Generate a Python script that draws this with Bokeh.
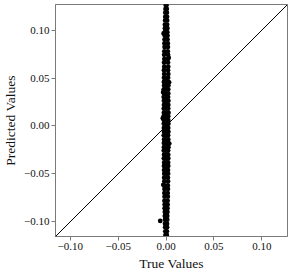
from bokeh.plotting import figure
from bokeh.models import Range1d, FixedTicker, Slope
from bokeh.embed import file_html
from bokeh.resources import INLINE

# ---- data ----
true_values = [
    -0.0004, 0.0005, -0.0006, 0.0007, -0.0008, 0.0008, -0.0009, 0.0010, -0.0010, 0.0011,
    -0.0012, 0.0011, -0.0012, 0.0013, -0.0014, 0.0013, -0.0014, 0.0015,
    -0.0016, 0.0015, -0.0017, 0.0018, -0.0016, 0.0019, -0.0018, 0.0018, -0.0020, 0.0020,
    -0.0018, 0.0019, -0.0021, 0.0020, -0.0019, 0.0022, -0.0022, 0.0020, -0.0020, 0.0023,
    -0.0022, 0.0002, 0.0021, -0.0023, -0.0001, 0.0022, -0.0021, 0.0001, 0.0024,
    -0.0024, 0.0000, 0.0022, -0.0022, 0.0003, 0.0023, -0.0025, -0.0002, 0.0021,
    -0.0023, 0.0001, 0.0024, -0.0022, -0.0001, 0.0023, -0.0024, 0.0002, 0.0022,
    -0.0023, 0.0000, 0.0025, -0.0025, 0.0001, 0.0022, -0.0022, -0.0002, 0.0023,
    -0.0024, 0.0001, 0.0024, -0.0023, 0.0000, 0.0022, -0.0022, 0.0002, 0.0024,
    -0.0024, -0.0001, 0.0021, -0.0021, 0.0001, 0.0023, -0.0023, 0.0000, 0.0022,
    -0.0022, 0.0002, 0.0024, -0.0024, -0.0001, 0.0021, -0.0021, 0.0001, 0.0022,
    -0.0023, 0.0000, 0.0023, -0.0020, 0.0002, 0.0021, -0.0022, -0.0001, 0.0022,
    -0.0021, 0.0001, 0.0020, -0.0019, 0.0000, 0.0021,
    -0.0020, 0.0019, -0.0018, 0.0020, -0.0019, 0.0018, -0.0017, 0.0019, -0.0018, 0.0017,
    -0.0016, 0.0018, -0.0017, 0.0016, -0.0015, 0.0016, -0.0015, 0.0014, -0.0013, 0.0014,
    -0.0013, 0.0012, -0.0011, 0.0012, -0.0011, 0.0010, -0.0009, 0.0010, -0.0008, 0.0008,
    -0.0006, 0.0007,
    -0.0061, -0.0034, 0.0033, -0.0031, 0.0031, -0.0029, 0.0027, -0.0026, 0.0001, -0.0002,
]
predicted_values = [
    0.1262, 0.1262, 0.1221, 0.1221, 0.1183, 0.1183, 0.1139, 0.1139, 0.1102, 0.1102,
    0.1058, 0.1058, 0.1021, 0.1021, 0.0979, 0.0979, 0.0941, 0.0941,
    0.0902, 0.0902, 0.0861, 0.0861, 0.0823, 0.0823, 0.0779, 0.0779, 0.0742, 0.0742,
    0.0698, 0.0698, 0.0661, 0.0661, 0.0619, 0.0619, 0.0582, 0.0582, 0.0541, 0.0541,
    0.0502, 0.0502, 0.0502, 0.0459, 0.0459, 0.0459, 0.0421, 0.0421, 0.0421,
    0.0382, 0.0382, 0.0382, 0.0339, 0.0339, 0.0339, 0.0301, 0.0301, 0.0301,
    0.0262, 0.0262, 0.0262, 0.0219, 0.0219, 0.0219, 0.0181, 0.0181, 0.0181,
    0.0138, 0.0138, 0.0138, 0.0101, 0.0101, 0.0101, 0.0059, 0.0059, 0.0059,
    0.0022, 0.0022, 0.0022, -0.0021, -0.0021, -0.0021, -0.0062, -0.0062, -0.0062,
    -0.0098, -0.0098, -0.0098, -0.0141, -0.0141, -0.0141, -0.0179, -0.0179, -0.0179,
    -0.0222, -0.0222, -0.0222, -0.0258, -0.0258, -0.0258, -0.0301, -0.0301, -0.0301,
    -0.0339, -0.0339, -0.0339, -0.0381, -0.0381, -0.0381, -0.0418, -0.0418, -0.0418,
    -0.0461, -0.0461, -0.0461, -0.0499, -0.0499, -0.0499,
    -0.0541, -0.0541, -0.0579, -0.0579, -0.0622, -0.0622, -0.0658, -0.0658, -0.0701, -0.0701,
    -0.0739, -0.0739, -0.0782, -0.0782, -0.0821, -0.0821, -0.0859, -0.0859, -0.0898, -0.0898,
    -0.0941, -0.0941, -0.0979, -0.0979, -0.1022, -0.1022, -0.1058, -0.1058, -0.1101, -0.1101,
    -0.1139, -0.1139,
    -0.0992, 0.0081, -0.0185, 0.0352, 0.0455, -0.0615, 0.0712, 0.0966, 0.1268, -0.1150,
]

tick_values = [-0.10, -0.05, 0.00, 0.05, 0.10]
tick_labels = ["\u22120.10", "\u22120.05", "0.00", "0.05", "0.10"]
axis_min, axis_max = -0.1155, 0.1268

FONT = "Liberation Serif"
SPINE = "#7a7a7a"

p = figure(
    frame_width=232, frame_height=232,
    x_range=Range1d(axis_min, axis_max), y_range=Range1d(axis_min, axis_max),
    output_backend="svg", toolbar_location=None,
    min_border_top=4, min_border_right=3, min_border_left=2, min_border_bottom=2,
    background_fill_color="white", border_fill_color="white",
)
p.grid.visible = False
p.outline_line_color = SPINE
p.outline_line_width = 1

p.add_layout(Slope(gradient=1, y_intercept=0, line_color="black", line_width=1))
p.scatter(true_values, predicted_values, size=4.8, color="black", line_width=0)

for ax in (p.xaxis[0], p.yaxis[0]):
    ax.ticker = FixedTicker(ticks=tick_values)
    ax.major_label_overrides = {v: s for v, s in zip(tick_values, tick_labels)}
    ax.major_label_text_font = FONT
    ax.major_label_text_font_size = "11px"
    ax.major_label_text_color = "#111111"
    ax.axis_label_text_font = FONT
    ax.axis_label_text_font_size = "13.5px"
    ax.axis_label_text_font_style = "normal"
    ax.axis_label_text_color = "#111111"
    ax.axis_line_color = SPINE
    ax.major_tick_line_color = SPINE
    ax.major_tick_in = 0
    ax.major_tick_out = 4
    ax.minor_tick_line_color = None
    ax.major_label_standoff = 2

p.xaxis.axis_label = "True Values"
p.yaxis.axis_label = "Predicted Values"
p.xaxis.axis_label_standoff = 3
p.yaxis.axis_label_standoff = 3

open("out.html", "w").write(file_html(p, INLINE))
